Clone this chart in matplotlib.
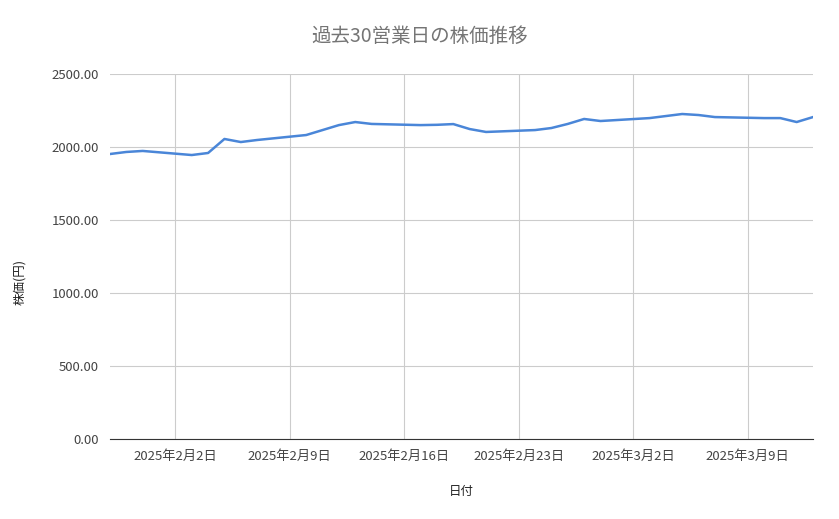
import matplotlib
matplotlib.use("Agg")
import matplotlib.pyplot as plt
import pandas as pd

plt.rcParams['font.family'] = ['Noto Sans CJK JP', 'DejaVu Sans']

dates = ["2025-01-29","2025-01-30","2025-01-31","2025-02-03","2025-02-04","2025-02-05","2025-02-06","2025-02-07",
         "2025-02-10","2025-02-11","2025-02-12","2025-02-13","2025-02-14","2025-02-17","2025-02-18","2025-02-19",
         "2025-02-20","2025-02-21","2025-02-24","2025-02-25","2025-02-26","2025-02-27","2025-02-28","2025-03-03",
         "2025-03-04","2025-03-05","2025-03-06","2025-03-07","2025-03-10","2025-03-11","2025-03-12","2025-03-13"]
prices = [1952,1966,1973,1945,1959,2055,2034,2048,2082,2116,2150,2171,2158,2150,2152,2157,
          2123,2103,2116,2130,2158,2192,2178,2198,2212,2226,2219,2205,2198,2198,2171,2205]
tick_dates = ["2025-02-02","2025-02-09","2025-02-16","2025-02-23","2025-03-02","2025-03-09"]
tick_labels = ["2025年2月2日","2025年2月9日","2025年2月16日","2025年2月23日","2025年3月2日","2025年3月9日"]
yticks = [0,500,1000,1500,2000,2500]

fig = plt.figure(figsize=(8.39,5.19), dpi=100)
ax = fig.add_axes([110/839, 1-439/519, 703/839, 365/519])
x = pd.to_datetime(dates)
ax.plot(x, prices, color='#4a86d8', lw=1.8)
ax.set_xlim(pd.Timestamp("2025-01-29"), pd.Timestamp("2025-03-13"))
ax.set_ylim(0,2500)
ax.set_yticks(yticks)
ax.set_yticklabels([f"{v:.2f}" for v in yticks])
ax.set_xticks(pd.to_datetime(tick_dates))
ax.set_xticklabels(tick_labels)
ax.grid(True, color='#cccccc', lw=0.8)
ax.set_axisbelow(True)
for s in ['top','right','left']:
    ax.spines[s].set_visible(False)
ax.spines['bottom'].set_color('#333333')
ax.tick_params(length=0, labelsize=9.5, colors='#444444', pad=8)
ax.set_xlabel("日付", fontsize=9, color='#222222', labelpad=16)
ax.set_ylabel("株価(円)", fontsize=9, color='#222222', labelpad=6)
ax.yaxis.set_label_coords(-84/703, 0.43)
fig.suptitle("過去30営業日の株価推移", x=0.5, y=0.95, fontsize=14, color='#757575')
fig.savefig("out.png", dpi=100, facecolor='white')
